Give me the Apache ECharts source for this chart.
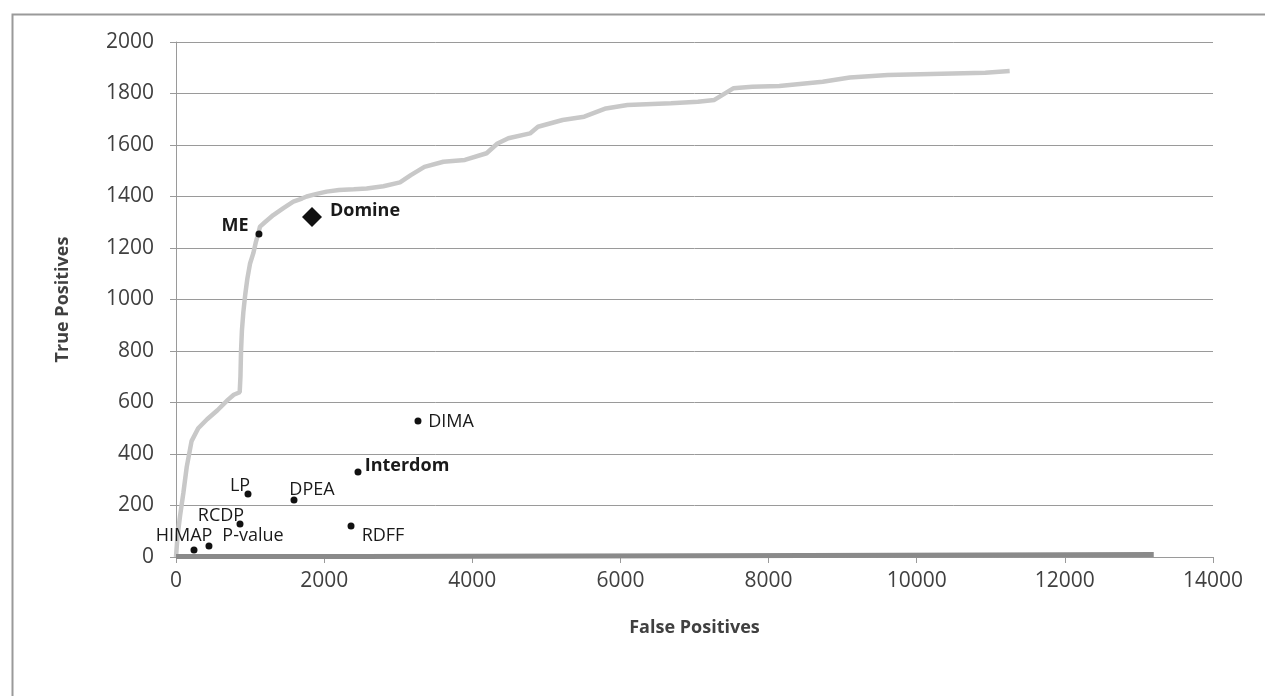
<!DOCTYPE html>
<html>
<head>
<meta charset="utf-8">
<script src="https://cdn.jsdelivr.net/npm/echarts@6/dist/echarts.min.js"></script>
<style>
html,body{margin:0;padding:0;background:#fff;}
#chart{width:1265px;height:696px;}
</style>
</head>
<body>
<div id="chart"></div>
<script>
// ROC-like curve (False Positives, True Positives)
const curveFP = [0,20,55,100,145,210,300,420,560,700,780,860,870,878,890,909,935,963,1000,1044,1080,1112,1134,1200,1314,1450,1584,1700,1764,1900,2034,2200,2400,2574,2800,3024,3170,3354,3610,3900,4193,4340,4487,4779,4887,5219,5511,5804,6095,6682,7046,7268,7523,7780,8146,8731,9097,9609,10485,10926,11255];
const curveTP = [0,80,160,250,350,450,500,535,570,610,630,640,700,800,880,950,1020,1080,1140,1180,1225,1257,1283,1300,1328,1355,1380,1392,1400,1410,1419,1425,1428,1431,1440,1455,1483,1515,1535,1542,1568,1606,1626,1645,1671,1697,1710,1742,1755,1762,1768,1775,1820,1826,1829,1846,1862,1872,1878,1881,1887];

// Dark baseline series (step)
const baseFP = [0,2500,8500,13200];
const baseTP = [2,6,10,10];

// Methods
const methodNames = ['ME','DIMA','Interdom','LP','DPEA','RCDP','RDFF','HIMAP','P-value'];
const methodFP = [1120,3267,2457,972,1593,864,2363,243,445];
const methodTP = [1254,528,330,245,221,128,120,27,43];

const domineName = 'Domine';
const domineFP = [1836];
const domineTP = [1320];

const xTicks = [0,2000,4000,6000,8000,10000,12000,14000];
const yTicks = [0,200,400,600,800,1000,1200,1400,1600,1800,2000];

// label styling (offset of text centre from point)
const labelStyle = {
  'ME': {offset:[-24,-8], fontWeight:'bold'},
  'DIMA': {offset:[33,1]},
  'Interdom': {offset:[49,-6], fontWeight:'bold'},
  'LP': {offset:[-8,-8]},
  'DPEA': {offset:[18,-10]},
  'RCDP': {offset:[-19,-8]},
  'RDFF': {offset:[32,10]},
  'HIMAP': {offset:[-10,-14]},
  'P-value': {offset:[44,-10]}
};

const FONT = "'Open Sans', sans-serif";
const plain = v => String(v);

const chart = echarts.init(document.getElementById('chart'));
const option = {
  backgroundColor:'#fff',
  animation:false,
  graphic:[{
    type:'rect', left:10, top:12, z:-10,
    shape:{width:1300, height:700},
    style:{fill:'none', stroke:'#9a9a9a', lineWidth:2}
  }],
  grid:{left:176, right:52, top:42, bottom:139},
  xAxis:{
    type:'value', min:xTicks[0], max:xTicks[xTicks.length-1], interval:2000,
    name:'False Positives', nameLocation:'middle', nameGap:62,
    nameTextStyle:{fontFamily:FONT, fontSize:18, fontWeight:'bold', color:'#404040'},
    axisLine:{show:true, lineStyle:{color:'#9a9a9a', width:1}},
    axisTick:{show:true, length:6, lineStyle:{color:'#9a9a9a'}},
    axisLabel:{fontFamily:FONT, fontSize:21, color:'#404040', margin:14, formatter:plain},
    splitLine:{show:false}
  },
  yAxis:{
    type:'value', min:yTicks[0], max:yTicks[yTicks.length-1], interval:200,
    name:'True Positives', nameLocation:'middle', nameGap:104, nameRotate:90,
    nameTextStyle:{fontFamily:FONT, fontSize:18, fontWeight:'bold', color:'#404040'},
    axisLine:{show:true, lineStyle:{color:'#9a9a9a', width:1}},
    axisTick:{show:true, length:6, lineStyle:{color:'#9a9a9a'}},
    axisLabel:{fontFamily:FONT, fontSize:21, color:'#404040', margin:22, formatter:plain},
    splitLine:{show:true, lineStyle:{color:'#9a9a9a', width:1}}
  },
  series:[
    {
      type:'line', name:'curve', showSymbol:false, symbol:'none',
      data: curveFP.map((x,i)=>[x,curveTP[i]]),
      lineStyle:{color:'#c8c8c8', width:4.5}, z:2
    },
    {
      type:'line', name:'base', showSymbol:false, symbol:'none', step:'end',
      data: baseFP.map((x,i)=>[x,baseTP[i]]),
      lineStyle:{color:'#8a8a8a', width:5}, z:3
    },
    {
      type:'scatter', name:'methods', symbol:'circle', symbolSize:7,
      itemStyle:{color:'#111', opacity:1}, z:5,
      data: methodNames.map((n,i)=>({
        name:n, value:[methodFP[i], methodTP[i]],
        label:{show:true, position:'inside', formatter:n, offset:labelStyle[n].offset,
          fontFamily:FONT, fontSize:18, color:'#1a1a1a',
          fontWeight:labelStyle[n].fontWeight||'normal'}
      }))
    },
    {
      type:'scatter', name:'Domine', symbol:'diamond', symbolSize:[20,20],
      itemStyle:{color:'#111', opacity:1}, z:5,
      data: domineFP.map((x,i)=>({name:domineName, value:[x, domineTP[i]]})),
      label:{show:true, position:'inside', formatter:domineName, offset:[53,-6],
        fontFamily:FONT, fontSize:18, fontWeight:'bold', color:'#1a1a1a'}
    }
  ]
};
chart.setOption(option);
</script>
</body>
</html>
